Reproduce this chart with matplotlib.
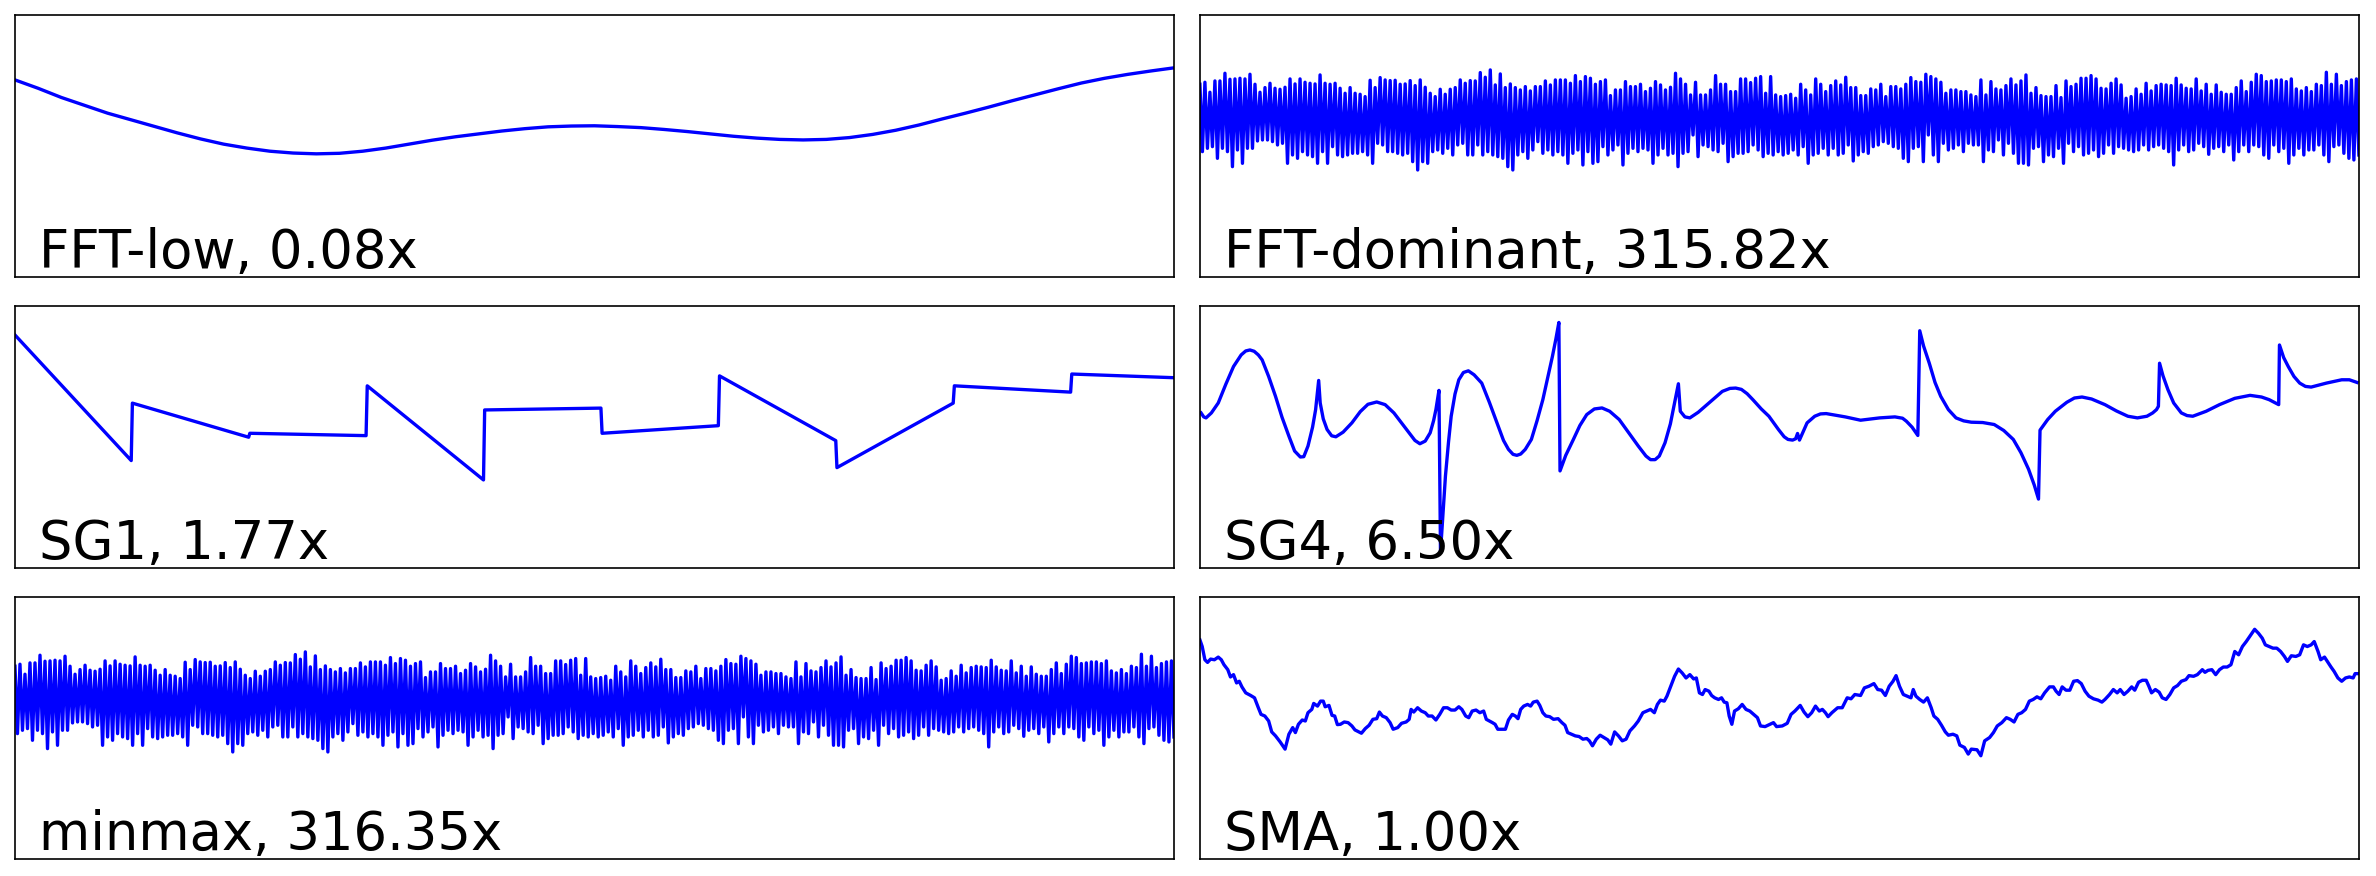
import numpy as np
import matplotlib
matplotlib.use("Agg")
import matplotlib.pyplot as plt

# labels of the six panels (row by row)
labels = ["FFT-low, 0.08x", "FFT-dominant, 315.82x",
          "SG1, 1.77x", "SG4, 6.50x",
          "minmax, 316.35x", "SMA, 1.00x"]

# low-pass component (sample, value)
fft_low = [(0, 75.2), (20, 72.0), (40, 68.5), (60, 65.5), (80, 62.5), (100, 60.0), (120, 57.5),
           (140, 55.0), (160, 52.7), (180, 50.7), (200, 49.2), (220, 48.0), (240, 47.3),
           (260, 47.0), (280, 47.2), (300, 48.0), (320, 49.2), (340, 50.7), (360, 52.2),
           (380, 53.5), (400, 54.6), (420, 55.7), (440, 56.6), (460, 57.3), (480, 57.6),
           (500, 57.7), (520, 57.4), (540, 57.0), (560, 56.3), (580, 55.5), (600, 54.6),
           (620, 53.7), (640, 53.0), (660, 52.5), (680, 52.3), (700, 52.5), (720, 53.2),
           (740, 54.4), (760, 56.0), (780, 58.0), (800, 60.3), (820, 62.5), (840, 64.8),
           (860, 67.2), (880, 69.5), (900, 71.8), (920, 74.0), (940, 75.8), (960, 77.3),
           (980, 78.6), (1000, 79.8)]

# fast oscillation: local maxima / minima, in order
fast_peaks = [578, 584, 554, 588, 588, 611, 593, 594, 596, 594, 608, 578, 554, 568, 581, 566,
              563, 569, 594, 579, 594, 584, 581, 579, 606, 581, 578, 581, 566, 551, 568, 551,
              548, 541, 590, 568, 598, 591, 589, 590, 578, 579, 589, 574, 591, 569, 551, 541,
              563, 548, 563, 568, 591, 581, 589, 588, 613, 599, 621, 576, 609, 568, 579, 568,
              561, 571, 558, 571, 571, 588, 576, 591, 591, 591, 581, 604, 586,
              601, 596, 578, 586, 591, 544, 561, 561, 586, 571, 571, 578, 556, 566, 586, 576,
              561, 569, 611, 594, 578, 546, 584, 546, 546, 561, 604, 578, 578, 556, 556, 594,
              594, 583, 596, 601, 551, 601, 546, 541, 544, 548, 536, 578, 561, 546, 594, 578,
              556, 574, 588, 576, 599, 568, 568, 544, 544, 564, 561, 578, 541, 571, 571, 564,
              578, 598, 586, 584, 608, 601, 594, 584, 551, 561, 561, 556, 556, 546,
              541, 591, 546, 586, 564, 561, 574, 594, 576, 588, 606, 551, 568, 544, 541, 541,
              574, 538, 588, 571, 578, 596, 596, 604, 594, 566, 564, 581, 594, 576, 536, 541,
              564, 548, 581, 558, 574, 578, 576, 574, 596, 576, 566, 564, 594, 558, 578, 548,
              576, 554, 548, 548, 568, 588, 556, 584, 608, 604, 586, 588, 591, 591, 586, 594,
              564, 558, 568, 556, 578, 574, 614, 578, 608, 574, 586, 591, 594]
fast_troughs = [376, 386, 391, 356, 386, 376, 331, 381, 341, 386, 386, 408, 411, 411, 406, 396,
                401, 341, 366, 356, 376, 366, 361, 341, 376, 341, 391, 366, 361, 366, 371, 371,
                376, 366, 341, 401, 396, 376, 376, 371, 366, 371, 346, 321, 346, 341, 376, 381,
                371, 386, 366, 396, 401, 366, 366, 396, 366, 376, 366, 361, 356, 331, 321, 366,
                376, 356, 381, 406, 371, 381, 366, 376, 366, 341, 371, 381, 336,
                376, 341, 346, 391, 366, 381, 396, 336, 371, 386, 376, 386, 381, 341, 366, 386,
                366, 371, 331, 371, 376, 426, 361, 396, 391, 381, 376, 401, 346, 361, 371, 371,
                376, 396, 381, 361, 371, 366, 376, 366, 371, 381, 366, 391, 341, 366, 371, 386,
                366, 386, 366, 371, 396, 348, 366, 376, 371, 391, 396, 406, 401, 391, 386, 356,
                346, 386, 391, 346, 426, 366, 346, 401, 381, 386, 396, 376, 401, 396,
                396, 346, 381, 376, 411, 366, 401, 371, 341, 341, 336, 386, 391, 346, 366, 361,
                386, 341, 401, 376, 391, 366, 371, 381, 361, 371, 396, 371, 391, 386, 381, 376,
                381, 396, 381, 391, 396, 386, 376, 336, 381, 396, 376, 381, 401, 391, 368, 386,
                391, 376, 396, 351, 376, 396, 376, 396, 391, 366, 356, 396, 376, 386, 341, 366,
                386, 366, 381, 381, 396, 366, 346, 391, 396, 371, 356, 351, 366]

# Savitzky-Golay order 1 (piecewise linear windows)
sg1 = [(0, 88.9), (99, 41.0), (100, 62.9), (199, 49.9), (200, 51.4), (299, 50.5),
       (300, 69.5), (399, 33.6), (400, 60.3), (499, 61.0), (500, 51.4), (599, 54.3),
       (600, 73.3), (699, 48.6), (700, 38.3), (799, 62.9), (800, 69.5), (899, 67.1),
       (900, 74.0), (987, 72.6)]

# Savitzky-Golay order 4
sg4 = [(3, 46.8), (10, 45.6), (16, 45.3), (30, 46.8), (48, 49.8), (68, 55.5), (88, 60.8),
       (108, 64.3), (120, 65.5), (131, 65.8), (142, 65.4), (153, 64.3), (163, 62.8),
       (180, 57.8), (198, 51.8), (215, 45.5), (233, 39.8), (248, 35.3), (263, 33.5),
       (272, 33.6), (283, 36.8), (295, 42.5), (303, 47.8), (311, 56.6), (315, 49.8),
       (323, 45.0), (333, 41.8), (345, 39.9), (356, 39.6), (375, 41.0), (398, 43.8),
       (420, 47.2), (440, 49.4), (463, 50.1), (485, 49.3), (508, 46.8), (528, 43.8),
       (548, 40.8), (563, 38.5), (576, 37.5), (590, 38.3), (603, 40.8), (612, 44.5),
       (618, 47.8), (626, 53.6), (630, 4.8), (643, 27.8), (651, 38.0), (658, 45.8),
       (668, 52.5), (678, 56.8), (690, 59.0), (703, 59.5), (718, 58.3), (738, 55.8),
       (758, 50.0), (778, 43.8), (795, 38.5), (808, 35.8), (820, 34.3), (830, 34.0),
       (840, 34.4), (852, 35.8), (868, 38.8), (883, 44.5), (898, 50.8), (910, 57.0),
       (923, 63.8), (932, 69.0), (940, 74.1), (943, 29.3), (958, 34.0), (978, 38.8),
       (995, 43.0), (1013, 46.3), (1033, 48.0), (1053, 48.3), (1073, 47.3), (1098, 44.8),
       (1123, 40.8), (1148, 36.8), (1168, 33.8), (1180, 32.7), (1192, 32.7), (1203, 33.8),
       (1218, 37.8), (1232, 43.5), (1243, 49.8), (1253, 55.6), (1258, 47.3), (1270, 45.6),
       (1283, 45.3), (1305, 47.0), (1328, 49.3), (1368, 53.3), (1388, 54.2), (1403, 54.3),
       (1418, 53.9), (1433, 52.6), (1448, 50.8), (1470, 48.0), (1490, 45.8), (1515, 41.8),
       (1530, 39.6), (1540, 38.8), (1552, 38.6), (1560, 39.0), (1565, 40.6), (1570, 38.6),
       (1580, 41.2), (1590, 43.8), (1610, 45.8), (1625, 46.5), (1640, 46.6), (1665, 46.1),
       (1690, 45.6), (1730, 44.6), (1780, 45.3), (1820, 45.6), (1840, 45.2), (1850, 44.3),
       (1865, 42.5), (1880, 40.0), (1885, 71.6), (1895, 67.0), (1910, 61.8), (1925, 56.0),
       (1940, 51.8), (1960, 47.8), (1980, 45.3), (2000, 44.4), (2020, 44.0), (2050, 43.9),
       (2080, 43.3), (2105, 41.5), (2130, 38.8), (2150, 34.8), (2170, 29.8), (2185, 25.0),
       (2196, 20.8), (2200, 41.6), (2220, 44.8), (2240, 47.3), (2270, 50.0), (2290, 51.3),
       (2310, 51.6), (2335, 51.0), (2370, 49.3), (2400, 47.4), (2430, 45.8), (2455, 45.3),
       (2480, 45.8), (2495, 46.8), (2505, 47.8), (2510, 48.8), (2513, 61.8), (2522, 58.0),
       (2535, 53.8), (2550, 49.8), (2570, 46.8), (2585, 46.0), (2600, 45.8), (2635, 47.3),
       (2670, 49.3), (2710, 51.2), (2750, 52.1), (2780, 51.6), (2800, 50.8), (2825, 49.3),
       (2827, 67.3), (2838, 63.5), (2850, 60.8), (2865, 57.8), (2880, 55.8), (2895, 54.8),
       (2910, 54.6), (2950, 55.8), (2990, 56.8), (3010, 56.8), (3030, 56.0)]

# simple moving average
sma = [(0, 66.2), (6, 64.2), (13, 60.2), (20, 59.4), (28, 60.4), (38, 60.2), (48, 61.0),
       (56, 60.2), (63, 58.7), (73, 57.2), (80, 55.0), (88, 55.7), (96, 53.2), (103, 53.7),
       (110, 52.0), (120, 50.2), (133, 49.4), (143, 48.7), (153, 45.7), (160, 43.7), (170, 43.2),
       (180, 41.7), (188, 38.4), (198, 37.2), (210, 35.4), (223, 33.2), (233, 37.7), (243, 39.7),
       (250, 38.2), (258, 40.7), (268, 42.0), (276, 41.7), (283, 44.2), (293, 45.2), (298, 47.0),
       (308, 46.2), (316, 47.7), (323, 47.7), (328, 46.0), (338, 46.4), (346, 43.4), (353, 43.2),
       (360, 40.6), (368, 40.7), (378, 41.4), (388, 41.2), (398, 40.2), (406, 39.0), (416, 38.4),
       (423, 38.0), (433, 39.4), (443, 40.4), (453, 42.2), (463, 42.4), (470, 44.4), (478, 43.2),
       (488, 42.7), (498, 41.2), (506, 39.2), (518, 39.7), (528, 41.0), (540, 41.4), (548, 42.2),
       (553, 45.2), (560, 44.4), (570, 45.7), (580, 44.7), (590, 44.2), (598, 43.2), (608, 43.2),
       (618, 42.0), (628, 43.7), (638, 45.7), (648, 45.7), (658, 45.0), (668, 45.0), (678, 46.0),
       (686, 45.2), (696, 43.2), (704, 42.7), (713, 44.7), (723, 45.0), (733, 44.2), (743, 44.7),
       (750, 42.2), (758, 41.7), (766, 41.2), (773, 40.7), (780, 39.2), (788, 39.2), (800, 39.2),
       (808, 42.0), (818, 43.7), (826, 43.2), (833, 42.4), (840, 45.2), (848, 46.2), (858, 46.7),
       (866, 46.2), (873, 47.4), (883, 47.7), (890, 46.4), (898, 44.2), (906, 43.2), (916, 43.0),
       (926, 42.2), (938, 42.4), (948, 41.2), (956, 40.4), (963, 38.2), (973, 37.7), (983, 37.2),
       (993, 37.0), (1003, 36.2), (1013, 36.4), (1020, 35.7), (1028, 34.2), (1038, 36.2),
       (1048, 37.4), (1058, 36.7), (1068, 36.0), (1076, 34.7), (1086, 38.4), (1096, 37.2),
       (1106, 35.7), (1116, 36.2), (1126, 38.7), (1138, 40.2), (1148, 41.7), (1160, 44.2),
       (1170, 44.7), (1180, 45.2), (1190, 44.2), (1198, 46.7), (1206, 48.0), (1216, 47.7),
       (1223, 49.2), (1233, 52.2), (1243, 55.2), (1253, 57.4), (1263, 56.2), (1273, 54.7),
       (1283, 55.7), (1293, 54.4), (1300, 54.7), (1308, 50.2), (1316, 49.7), (1323, 51.2),
       (1333, 50.7), (1340, 49.4), (1348, 48.7), (1358, 48.2), (1366, 48.7), (1373, 47.4),
       (1380, 47.2), (1386, 43.2), (1393, 40.7), (1400, 44.7), (1410, 45.4), (1420, 46.7),
       (1430, 45.2), (1440, 44.7), (1450, 43.7), (1460, 42.7), (1468, 40.2), (1480, 40.0),
       (1502, 41.2), (1510, 40.0), (1525, 40.2), (1538, 41.0), (1548, 43.7), (1558, 44.7),
       (1572, 46.4), (1582, 44.4), (1592, 43.0), (1602, 44.2), (1612, 46.2), (1622, 44.7),
       (1630, 45.2), (1638, 44.2), (1645, 43.0), (1655, 44.2), (1670, 45.7), (1682, 45.7),
       (1695, 48.7), (1705, 48.4), (1715, 49.7), (1730, 49.4), (1740, 51.7), (1752, 52.2),
       (1765, 53.0), (1775, 51.2), (1785, 51.0), (1795, 49.4), (1805, 52.2), (1815, 53.7),
       (1823, 55.4), (1832, 52.2), (1842, 49.7), (1852, 49.2), (1862, 48.7), (1868, 51.2),
       (1875, 49.2), (1885, 48.2), (1895, 47.4), (1905, 48.7), (1915, 45.7), (1922, 43.2),
       (1932, 42.2), (1942, 40.4), (1952, 38.4), (1960, 37.4), (1972, 37.7), (1982, 37.2),
       (1990, 34.4), (2002, 33.7), (2012, 31.7), (2020, 33.2), (2035, 33.0), (2045, 31.2),
       (2055, 35.7), (2068, 36.7), (2078, 38.2), (2088, 40.2), (2100, 41.2), (2112, 42.7),
       (2122, 42.2), (2132, 41.4), (2142, 43.7), (2152, 44.2), (2162, 45.2), (2172, 47.7),
       (2182, 48.2), (2192, 49.0), (2202, 48.4), (2212, 50.2), (2225, 52.0), (2235, 52.0),
       (2242, 50.7), (2250, 49.7), (2258, 52.0), (2268, 51.0), (2278, 51.0), (2288, 53.7),
       (2298, 53.9), (2308, 53.0), (2318, 50.7), (2328, 49.2), (2340, 48.4), (2352, 48.0),
       (2362, 47.4), (2370, 48.2), (2382, 49.7), (2392, 51.2), (2402, 50.2), (2410, 51.2),
       (2420, 49.7), (2430, 50.7), (2440, 52.0), (2448, 51.0), (2458, 53.4), (2468, 54.0),
       (2478, 54.0), (2485, 52.2), (2492, 50.2), (2502, 51.2), (2512, 50.4), (2520, 48.7),
       (2530, 48.2), (2540, 49.7), (2550, 51.7), (2560, 52.4), (2570, 53.7), (2582, 54.2),
       (2590, 55.4), (2602, 55.2), (2612, 55.7), (2625, 57.2), (2632, 56.4), (2640, 57.0),
       (2650, 57.2), (2660, 55.7), (2670, 57.2), (2680, 58.0), (2690, 58.0), (2700, 58.7),
       (2710, 62.7), (2720, 61.7), (2730, 64.2), (2740, 65.7), (2752, 67.7), (2762, 69.4),
       (2772, 68.2), (2782, 66.7), (2790, 64.7), (2800, 64.2), (2810, 63.7), (2820, 63.7),
       (2830, 62.7), (2840, 61.2), (2848, 59.7), (2858, 61.4), (2870, 61.2), (2880, 61.7),
       (2890, 64.7), (2900, 64.2), (2910, 64.7), (2918, 65.7), (2928, 62.7), (2935, 60.2),
       (2945, 61.0), (2955, 59.2), (2962, 58.0), (2970, 56.7), (2980, 54.7), (2990, 53.7),
       (3000, 54.7), (3010, 55.0), (3020, 54.7), (3025, 56.0), (3032, 56.0)]

# interleave maxima and minima into one zig-zag series
fast = np.empty(2 * len(fast_peaks))
fast[0::2] = fast_peaks
fast[1::2] = fast_troughs
fast_pts = list(zip(range(len(fast)), fast))

series = [fft_low, fast_pts, sg1, sg4, fast_pts, sma]
ylims = [(0, 100), (0, 786), (0, 100), (0, 79.1), (0, 786), (0, 79.2)]
xlims = [(0, 1000), (0, len(fast) - 1), (0, 987), (0, 3035), (0, len(fast) - 1), (0, 3035)]

fig, axes = plt.subplots(3, 2, figsize=(23.76, 8.76), dpi=100)
fig.subplots_adjust(left=0.0063, right=0.9928, top=0.983, bottom=0.0194,
                    wspace=0.0224, hspace=0.11)

for ax, pts, lab, yl, xl in zip(axes.flat, series, labels, ylims, xlims):
    x, y = zip(*pts)
    ax.plot(x, y, color="blue", lw=2.4)
    ax.set_xlim(*xl)
    ax.set_ylim(*yl)
    ax.set_xticks([])
    ax.set_yticks([])
    for s in ax.spines.values():
        s.set_linewidth(1.2)
    ax.text(0.021, 0.035, lab, transform=ax.transAxes, fontsize=38)

fig.savefig("out.png", dpi=100)
